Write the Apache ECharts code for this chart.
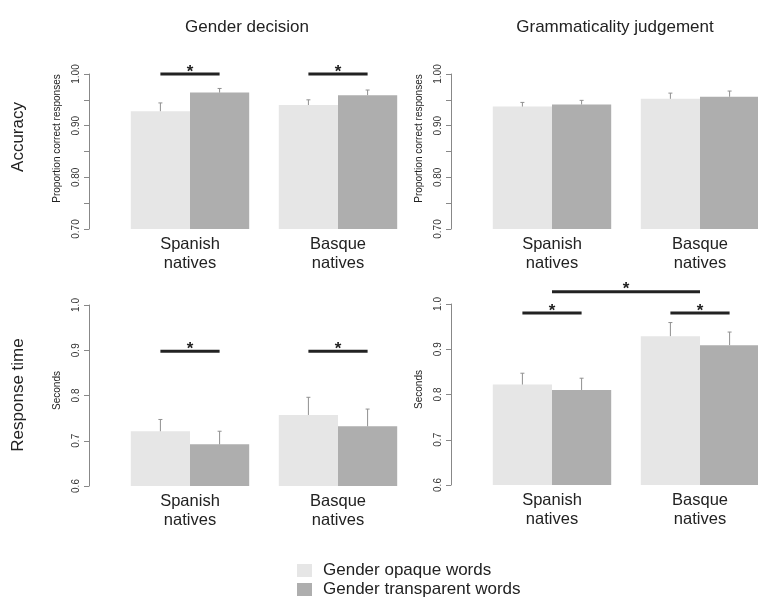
<!DOCTYPE html>
<html>
<head>
<meta charset="utf-8">
<script src="https://cdn.jsdelivr.net/npm/echarts@6/dist/echarts.min.js"></script>
<style>html,body{margin:0;padding:0;background:#fff}#c{width:758px;height:599px}</style>
</head>
<body>
<div id="c"></div>
<script>
// ---------- data ----------
var categories = ['Spanish\nnatives', 'Basque\nnatives'];
var seriesNames = ['Gender opaque words', 'Gender transparent words'];
var panelTitles = ['Gender decision', 'Grammaticality judgement'];
var rowLabels = ['Accuracy', 'Response time'];
var accAxisName = 'Proportion correct responses';
var rtAxisName = 'Seconds';

// Gender decision - accuracy
var gdAccOpaque = [0.928, 0.940];
var gdAccOpaqueErr = [0.944, 0.950];
var gdAccTransp = [0.964, 0.959];
var gdAccTranspErr = [0.972, 0.969];
// Grammaticality judgement - accuracy
var gjAccOpaque = [0.937, 0.952];
var gjAccOpaqueErr = [0.945, 0.963];
var gjAccTransp = [0.941, 0.956];
var gjAccTranspErr = [0.949, 0.967];
// Gender decision - response time
var gdRtOpaque = [0.721, 0.757];
var gdRtOpaqueErr = [0.747, 0.796];
var gdRtTransp = [0.692, 0.732];
var gdRtTranspErr = [0.721, 0.770];
// Grammaticality judgement - response time
var gjRtOpaque = [0.822, 0.929];
var gjRtOpaqueErr = [0.847, 0.959];
var gjRtTransp = [0.810, 0.909];
var gjRtTranspErr = [0.836, 0.938];

// significance brackets: [fromCategory, fromSide, toCategory, toSide, level]
// side: -1 = opaque bar, 0 = category centre, 1 = transparent bar
var gdAccSig = [[0, -1, 0, 1, 1.0], [1, -1, 1, 1, 1.0]];
var gjAccSig = [];
var gdRtSig = [[0, -1, 0, 1, 0.898], [1, -1, 1, 1, 0.898]];
var gjRtSig = [[0, -1, 0, 1, 0.980], [1, -1, 1, 1, 0.980], [0, 0, 1, 0, 1.027]];

var accTicks = {min: 0.70, max: 1.00, interval: 0.05};
var rtTicks = {min: 0.6, max: 1.0, interval: 0.1};

// ---------- chart ----------
var LIGHT = '#e6e6e6', DARK = '#aeaeae', FONT = '"Liberation Sans", Arial, Helvetica, sans-serif';
var chart = echarts.init(document.getElementById('c'), null, {renderer: 'canvas'});

var grids = [
  {left: 116, top: 74, width: 296, height: 155, outerBoundsMode: 'none'},
  {left: 478, top: 74, width: 296, height: 155, outerBoundsMode: 'none'},
  {left: 116, top: 305, width: 296, height: 181, outerBoundsMode: 'none'},
  {left: 478, top: 304, width: 296, height: 181, outerBoundsMode: 'none'}
];
var panels = [
  {op: gdAccOpaque, opE: gdAccOpaqueErr, tr: gdAccTransp, trE: gdAccTranspErr, sig: gdAccSig, acc: true},
  {op: gjAccOpaque, opE: gjAccOpaqueErr, tr: gjAccTransp, trE: gjAccTranspErr, sig: gjAccSig, acc: true},
  {op: gdRtOpaque, opE: gdRtOpaqueErr, tr: gdRtTransp, trE: gdRtTranspErr, sig: gdRtSig, acc: false},
  {op: gjRtOpaque, opE: gjRtOpaqueErr, tr: gjRtTransp, trE: gjRtTranspErr, sig: gjRtSig, acc: false}
];

var xAxes = [], yAxes = [], series = [];
panels.forEach(function (p, i) {
  xAxes.push({
    type: 'category', gridIndex: i, data: categories,
    axisLine: {show: false}, axisTick: {show: false},
    axisLabel: {fontSize: 16.5, color: '#222', lineHeight: 19, margin: 6, fontFamily: FONT}
  });
  var t = p.acc ? accTicks : rtTicks;
  yAxes.push({
    type: 'value', gridIndex: i, min: t.min, max: t.max, interval: t.interval, offset: 27,
    name: p.acc ? accAxisName : rtAxisName, nameLocation: 'middle', nameGap: 27,
    nameTextStyle: {fontSize: 10, color: '#222', fontFamily: FONT,
      padding: p.acc ? [0, 0, 0, 26] : [0, 0, 0, 10]},
    axisLine: {show: true, lineStyle: {color: '#888', width: 1}},
    axisTick: {show: true, length: 5, lineStyle: {color: '#888'}},
    splitLine: {show: false},
    axisLabel: {
      rotate: 90, fontSize: 10, color: '#333', margin: 8, fontFamily: FONT,
      formatter: function (v) {
        if (p.acc) { return Math.round(v * 100) % 10 === 0 ? v.toFixed(2) : ''; }
        return v.toFixed(1);
      }
    }
  });
  series.push({
    name: seriesNames[0], type: 'bar', xAxisIndex: i, yAxisIndex: i, data: p.op,
    barWidth: '40%', barGap: '0%', itemStyle: {color: LIGHT}, silent: true
  });
  series.push({
    name: seriesNames[1], type: 'bar', xAxisIndex: i, yAxisIndex: i, data: p.tr,
    barWidth: '40%', barGap: '0%', itemStyle: {color: DARK}, silent: true
  });
  var errData = [];
  p.op.forEach(function (v, k) { errData.push([k, v, p.opE[k], -1]); });
  p.tr.forEach(function (v, k) { errData.push([k, v, p.trE[k], 1]); });
  series.push({
    type: 'custom', xAxisIndex: i, yAxisIndex: i, data: errData, silent: true, z: 3,
    renderItem: function (params, api) {
      var c = api.value(0), m = api.value(1), top = api.value(2), side = api.value(3);
      var p0 = api.coord([c, m]), p1 = api.coord([c, top]);
      var band = api.size([1, 0])[0];
      var x = p0[0] + side * band * 0.2;
      var st = {stroke: '#909090', lineWidth: 1};
      return {type: 'group', children: [
        {type: 'line', shape: {x1: x, y1: p0[1], x2: x, y2: p1[1]}, style: st},
        {type: 'line', shape: {x1: x - 2, y1: p1[1], x2: x + 2, y2: p1[1]}, style: st}
      ]};
    }
  });
  if (p.sig.length) {
    series.push({
      type: 'custom', xAxisIndex: i, yAxisIndex: i, data: p.sig.map(function (s) { return s.slice(); }),
      silent: true, clip: false, z: 4,
      renderItem: function (params, api) {
        var s = p.sig[params.dataIndex];
        var band = api.size([1, 0])[0];
        var a = api.coord([s[0], s[4]]), b = api.coord([s[2], s[4]]);
        var xa = a[0] + s[1] * band * 0.2, xb = b[0] + s[3] * band * 0.2;
        return {type: 'group', children: [
          {type: 'line', shape: {x1: xa, y1: a[1], x2: xb, y2: a[1]}, style: {stroke: '#222', lineWidth: 3}},
          {type: 'text', x: (xa + xb) / 2, y: a[1] - 2,
           style: {text: '*', fontSize: 17, fontWeight: 'bold', fill: '#222', align: 'center', verticalAlign: 'middle', fontFamily: FONT}}
        ]};
      }
    });
  }
});

function legendBox(name, top) {
  return {
    data: [name], orient: 'vertical', left: 297, top: top, itemWidth: 15, itemHeight: 13,
    icon: 'rect', selectedMode: false, padding: 0,
    textStyle: {fontSize: 17, color: '#222', fontFamily: FONT, padding: [0, 0, 0, 6]}
  };
}

chart.setOption({
  animation: false,
  textStyle: {fontFamily: FONT},
  title: [
    {text: panelTitles[0], left: 242, top: 14, textAlign: 'center',
     textStyle: {fontSize: 17, fontWeight: 'normal', color: '#222', fontFamily: FONT}},
    {text: panelTitles[1], left: 610, top: 14, textAlign: 'center',
     textStyle: {fontSize: 17, fontWeight: 'normal', color: '#222', fontFamily: FONT}}
  ],
  legend: [legendBox(seriesNames[0], 562), legendBox(seriesNames[1], 581)],
  graphic: [
    {type: 'text', x: 18, y: 137, rotation: Math.PI / 2,
     style: {text: rowLabels[0], fontSize: 17, fill: '#222', align: 'center', verticalAlign: 'middle', fontFamily: FONT}},
    {type: 'text', x: 18, y: 395, rotation: Math.PI / 2,
     style: {text: rowLabels[1], fontSize: 17, fill: '#222', align: 'center', verticalAlign: 'middle', fontFamily: FONT}}
  ],
  grid: grids,
  xAxis: xAxes,
  yAxis: yAxes,
  series: series
});
</script>
</body>
</html>
